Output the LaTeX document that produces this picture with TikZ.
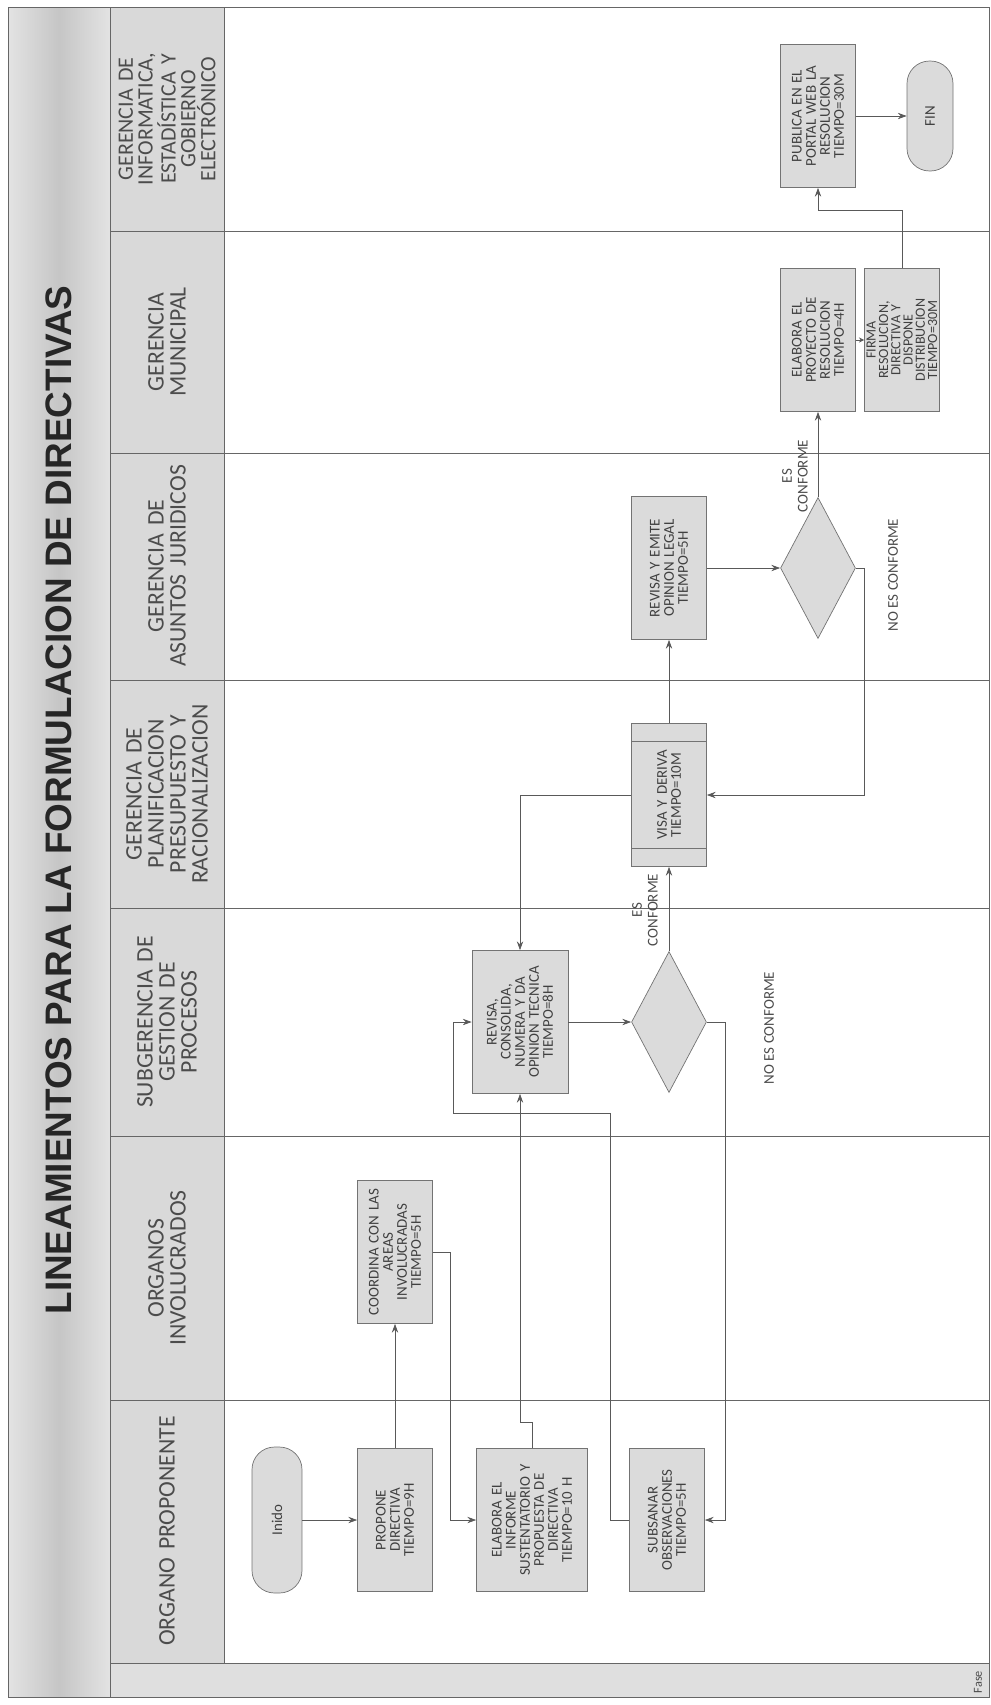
\documentclass[tikz,border=0pt]{standalone}
\usepackage{fontspec}
\setmainfont{Carlito}
\newfontfamily\titlefont{Liberation Sans}
\usepackage{tikz}
\usetikzlibrary{shapes.geometric, arrows.meta, calc}
\tikzset{
  proc/.style={rectangle, draw=black!55, fill=gray!28, rotate=90,
               minimum width=2.86cm, minimum height=1.5cm, inner sep=1pt,
               text width=2.6cm, align=center, text=black!75,
               font=\fontsize{8.5}{8}\selectfont},
  dec/.style={diamond, aspect=1.88, draw=black!55, fill=gray!28, rotate=90,
              minimum width=2.82cm, minimum height=1.5cm, inner sep=0pt},
  term/.style={rectangle, rounded corners=0.45cm, draw=black!55, fill=gray!28,
               rotate=90, align=center, text=black!75,
               font=\fontsize{8.5}{8}\selectfont},
  hdr/.style={rotate=90, align=center, text=black!70, text width=5.2cm,
              font=\fontsize{13.5}{12.5}\selectfont},
  lbl/.style={rotate=90, align=center, text=black!70,
              font=\fontsize{8.5}{9}\selectfont},
  arr/.style={-{Stealth[length=5pt, width=3.6pt]}, draw=black!65, thin},
  lane/.style={draw=black!60, thin},
}

\begin{document}
\begin{tikzpicture}[x=0.02cm, y=-0.02cm]
  \useasboundingbox (0,0) rectangle (991,1705);
  % bands
  \shade[left color=gray!22, right color=gray!22, middle color=gray!45]
        (8,7) rectangle (110,1697);
  \fill[gray!30] (110,7) rectangle (224,1663);
  \fill[gray!25] (110,1663) rectangle (989,1697);
  \draw[lane] (8,7) rectangle (989,1697);
  \draw[lane] (110,7) -- (110,1697);
  \draw[lane] (224,7) -- (224,1663);
  \draw[lane] (110,1663) -- (989,1663);
  % lane separators
  \foreach \y in {231,453,680,908,1136,1400}
    \draw[lane] (110,\y) -- (989,\y);
  % title
  \node[rotate=90, text=black!85,
        font=\titlefont\fontsize{21}{25}\selectfont\bfseries] (title) at (59,800)
        {LINEAMIENTOS PARA LA FORMULACION DE DIRECTIVAS};
  % lane headers
  \node[hdr, font=\fontsize{12.5}{11.3}\selectfont] (hInfo) at (167,119)
        {GERENCIA DE\\INFORMATICA,\\ESTADÍSTICA Y\\GOBIERNO\\ELECTRÓNICO};
  \node[hdr] (hMuni) at (167,342) {GERENCIA\\MUNICIPAL};
  \node[hdr] (hJuri) at (167,566) {GERENCIA DE\\ASUNTOS JURIDICOS};
  \node[hdr] (hPlan) at (167,794)
        {GERENCIA DE\\PLANIFICACION\\PRESUPUESTO Y\\RACIONALIZACION};
  \node[hdr] (hProc) at (167,1022) {SUBGERENCIA DE\\GESTION DE\\PROCESOS};
  \node[hdr] (hInv) at (167,1268) {ORGANOS\\INVOLUCRADOS};
  \node[hdr] (hProp) at (167,1531) {ORGANO PROPONENTE};
  \node[rotate=90, text=black!70, font=\fontsize{7}{8}\selectfont] (fase)
        at (978,1682) {Fase};
  % activities
  \node[term, minimum width=2.92cm, minimum height=1cm] (inido) at (277,1520) {Inido};
  \node[proc] (propone) at (395,1520) {PROPONE\\DIRECTIVA\\TIEMPO=9H};
  \node[proc, minimum height=2.22cm] (elabora) at (532,1520)
        {ELABORA EL\\INFORME\\SUSTENTATORIO Y\\PROPUESTA DE\\DIRECTIVA\\TIEMPO=10 H};
  \node[proc] (subsanar) at (667,1520) {SUBSANAR\\OBSERVACIONES\\TIEMPO=5H};
  \node[proc] (coordina) at (395,1252)
        {COORDINA CON LAS\\AREAS\\INVOLUCRADAS\\TIEMPO=5H};
  \node[proc, minimum height=1.92cm] (revisa) at (520,1022)
        {REVISA,\\CONSOLIDA,\\NUMERA Y DA\\OPINION TECNICA\\TIEMPO=8H};
  \node[dec] (dec1) at (669,1022) {};
  \node[proc] (visa) at (669,795) {VISA Y DERIVA\\TIEMPO=10M};
  \draw[black!55] ($(visa.north west)!0.126!(visa.north east)$)
        -- ($(visa.south west)!0.126!(visa.south east)$);
  \draw[black!55] ($(visa.north west)!0.874!(visa.north east)$)
        -- ($(visa.south west)!0.874!(visa.south east)$);
  \node[proc] (legal) at (669,568) {REVISA Y EMITE\\OPINION LEGAL\\TIEMPO=5H};
  \node[dec] (dec2) at (818,568) {};
  \node[proc] (proyecto) at (818,340) {ELABORA EL\\PROYECTO DE\\RESOLUCION\\TIEMPO=4H};
  \node[proc, inner sep=0pt, font=\fontsize{8}{7}\selectfont] (firma) at (902,340)
        {FIRMA\\RESOLUCION,\\DIRECTIVA Y\\DISPONE\\DISTRIBUCION\\TIEMPO=30M};
  \node[proc] (publica) at (818,116) {PUBLICA EN EL\\PORTAL WEB LA\\RESOLUCION\\TIEMPO=30M};
  \node[term, minimum width=2.2cm, minimum height=0.92cm] (fin) at (930,116) {FIN};
  % decision labels
  \node[lbl] (es1) at (645,910) {ES\\CONFORME};
  \node[lbl] (no1) at (769,1028) {NO ES CONFORME};
  \node[lbl] (es2) at (795,476) {ES\\CONFORME};
  \node[lbl] (no2) at (893,575) {NO ES CONFORME};
  % connectors
  \coordinate (r1) at (453,1113);
  \draw[arr] (inido) -- (propone);
  \draw[arr] (propone) -- (coordina);
  \draw[arr] (coordina.south) -- ++(18,0) |- (elabora.north);
  \draw[arr] (elabora.east) -- ++(0,-26) -| (revisa.west);
  \draw[arr] (subsanar.north) -- ++(-19,0) |- (r1) |- (revisa.north);
  \draw[arr] (revisa) -- (dec1);
  \draw[arr] (dec1) -- (visa);
  \draw[arr] (dec1.south) -- ++(19,0) |- (subsanar.south);
  \draw[arr] (visa) -- (legal);
  \draw[arr] (visa.north) -| (revisa.east);
  \draw[arr] (legal) -- (dec2);
  \draw[arr] (dec2) -- (proyecto);
  \draw[arr] (dec2.south) -- ++(8,0) |- (visa.south);
  \draw[arr, -{Stealth[length=3pt, width=3pt]}] (proyecto) -- (firma);
  \draw[arr] (firma.east) -- ++(0,-58) -| (publica.west);
  \draw[arr] (publica) -- (fin);
\end{tikzpicture}
\end{document}
